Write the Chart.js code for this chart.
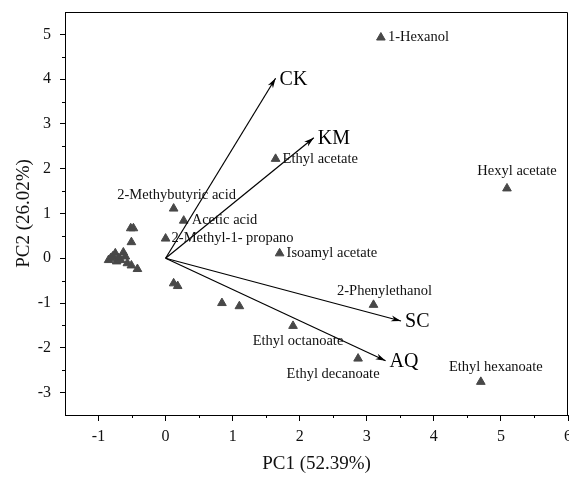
<!DOCTYPE html>
<html>
<head>
<meta charset="utf-8">
<script src="https://cdn.jsdelivr.net/npm/chart.js@4.4.1/dist/chart.umd.min.js"></script>
<style>
html,body{margin:0;padding:0;background:#fff;}
#wrap{width:569px;height:481px;}
</style>
</head>
<body>
<div id="wrap"><canvas id="c" width="569" height="481"></canvas></div>
<script>
// ---- data ----
const pointNames = ['1-Hexanol','Ethyl acetate','Hexyl acetate','2-Methybutyric acid','Acetic acid','2-Methyl-1- propano','Isoamyl acetate','2-Phenylethanol','Ethyl octanoate','Ethyl decanoate','Ethyl hexanoate','','','','','','','','','','','','','','','','','',''];
const pointX = [3.21,1.64,5.09,0.12,0.27,0.00,1.70,3.10,1.90,2.87,4.70,0.84,1.10,0.12,0.18,-0.52,-0.48,-0.51,-0.85,-0.82,-0.79,-0.75,-0.73,-0.70,-0.67,-0.63,-0.60,-0.57,-0.51];
const pointY = [4.93,2.22,1.56,1.11,0.84,0.44,0.11,-1.04,-1.51,-2.24,-2.76,-1.00,-1.07,-0.56,-0.62,0.67,0.67,0.36,-0.04,0.00,0.04,0.11,-0.07,0.00,-0.04,0.13,0.04,-0.11,-0.16];
const extraX = [-0.42];
const extraY = [-0.24];
const loadingNames = ['CK','KM','SC','AQ'];
const loadingX = [1.64,2.21,3.51,3.28];
const loadingY = [4.02,2.69,-1.40,-2.29];
const xTickValues = [-1,0,1,2,3,4,5,6];
const yTickValues = [-3,-2,-1,0,1,2,3,4,5];
const xTitle = 'PC1 (52.39%)';
const yTitle = 'PC2 (26.02%)';

// ---- label placement (style) ----
const labelStyle = {
  '1-Hexanol':{dx:7,dy:0,align:'left'},
  'Ethyl acetate':{dx:7,dy:0,align:'left'},
  'Hexyl acetate':{dx:10,dy:-17,align:'center'},
  '2-Methybutyric acid':{dx:3,dy:-13,align:'center'},
  'Acetic acid':{dx:8,dy:0,align:'left'},
  '2-Methyl-1- propano':{dx:6,dy:0,align:'left'},
  'Isoamyl acetate':{dx:7,dy:0,align:'left'},
  '2-Phenylethanol':{dx:11,dy:-14,align:'center'},
  'Ethyl octanoate':{dx:5,dy:15,align:'center'},
  'Ethyl decanoate':{dx:-25,dy:16,align:'center'},
  'Ethyl hexanoate':{dx:15,dy:-15,align:'center'}
};
const SERIF = '"Liberation Serif","Times New Roman",serif';

const scatterData = pointX.map((x,i)=>({x:x,y:pointY[i]})).concat(extraX.map((x,i)=>({x:x,y:extraY[i]})));
const datasets = [{
  type:'scatter',
  label:'compounds',
  data:scatterData,
  pointStyle:'triangle',
  pointRadius:5,
  pointHoverRadius:5,
  backgroundColor:'#484848',
  borderColor:'#484848',
  borderWidth:1,
  order:2
}];
loadingNames.forEach((n,i)=>{
  datasets.push({
    type:'line',
    label:n,
    data:[{x:0,y:0},{x:loadingX[i],y:loadingY[i]}],
    borderColor:'#000',
    borderWidth:1.2,
    pointRadius:0,
    fill:false,
    order:1
  });
});

const decor = {
  id:'decor',
  afterDatasetsDraw(chart){
    const ctx = chart.ctx, xs = chart.scales.x, ys = chart.scales.y, ca = chart.chartArea;
    ctx.save();
    ctx.strokeStyle='#000'; ctx.lineWidth=1;
    ctx.beginPath();
    ctx.moveTo(ca.left, ca.top+0.5); ctx.lineTo(ca.right-0.5, ca.top+0.5); ctx.lineTo(ca.right-0.5, ca.bottom);
    ctx.stroke();
    ctx.beginPath();
    for(let v=-0.5; v<6; v+=1){ const px=Math.round(xs.getPixelForValue(v))+0.5; ctx.moveTo(px,ca.bottom); ctx.lineTo(px,ca.bottom+3); }
    for(let v=-2.5; v<5.5; v+=1){ const py=Math.round(ys.getPixelForValue(v))+0.5; ctx.moveTo(ca.left,py); ctx.lineTo(ca.left-3,py); }
    ctx.stroke();
    ctx.fillStyle='#000';
    loadingNames.forEach((n,i)=>{
      const x0=xs.getPixelForValue(0), y0=ys.getPixelForValue(0);
      const x1=xs.getPixelForValue(loadingX[i]), y1=ys.getPixelForValue(loadingY[i]);
      const a=Math.atan2(y1-y0,x1-x0), L=10, W=3;
      ctx.beginPath();
      ctx.moveTo(x1,y1);
      ctx.lineTo(x1-L*Math.cos(a)+W*Math.sin(a), y1-L*Math.sin(a)-W*Math.cos(a));
      ctx.lineTo(x1-L*0.7*Math.cos(a), y1-L*0.7*Math.sin(a));
      ctx.lineTo(x1-L*Math.cos(a)-W*Math.sin(a), y1-L*Math.sin(a)+W*Math.cos(a));
      ctx.closePath(); ctx.fill();
      ctx.font='20px '+SERIF; ctx.textAlign='left'; ctx.textBaseline='middle';
      ctx.fillText(n, x1+4, y1+1);
    });
    ctx.font='14.5px '+SERIF; ctx.fillStyle='#111'; ctx.textBaseline='middle';
    pointNames.forEach((n,i)=>{
      if(!n) return;
      const s=labelStyle[n]||{dx:7,dy:0,align:'left'};
      ctx.textAlign=s.align;
      ctx.fillText(n, xs.getPixelForValue(pointX[i])+s.dx, ys.getPixelForValue(pointY[i])+s.dy);
    });
    ctx.restore();
  }
};

new Chart(document.getElementById('c'), {
  data:{datasets:datasets},
  options:{
    responsive:false,
    animation:false,
    layout:{autoPadding:false, padding:{top:12,right:1,left:0,bottom:0}},
    plugins:{legend:{display:false},tooltip:{enabled:false}},
    scales:{
      x:{
        type:'linear', min:-1.5, max:6,
        afterBuildTicks(s){ s.ticks = xTickValues.map(v=>({value:v})); },
        afterFit(s){ s.height=66; s.paddingLeft=0; s.paddingRight=0; },
        grid:{drawOnChartArea:false, tickLength:6, color:'#000', tickColor:'#000'},
        border:{color:'#000', width:1},
        ticks:{color:'#111', padding:6, maxRotation:0, font:{family:SERIF, size:16}},
        title:{display:true, text:xTitle, color:'#111', font:{family:SERIF, size:19}, padding:{top:4,bottom:6}}
      },
      y:{
        type:'linear', min:-3.5, max:5.5,
        afterBuildTicks(s){ s.ticks = yTickValues.map(v=>({value:v})); },
        afterFit(s){ s.width=65; s.paddingTop=0; s.paddingBottom=0; },
        grid:{drawOnChartArea:false, tickLength:5, color:'#000', tickColor:'#000'},
        border:{color:'#000', width:1},
        ticks:{color:'#111', padding:9, font:{family:SERIF, size:16}},
        title:{display:true, text:yTitle, color:'#111', font:{family:SERIF, size:19}, padding:{top:13,bottom:0}}
      }
    }
  },
  plugins:[decor]
});
</script>
</body>
</html>
